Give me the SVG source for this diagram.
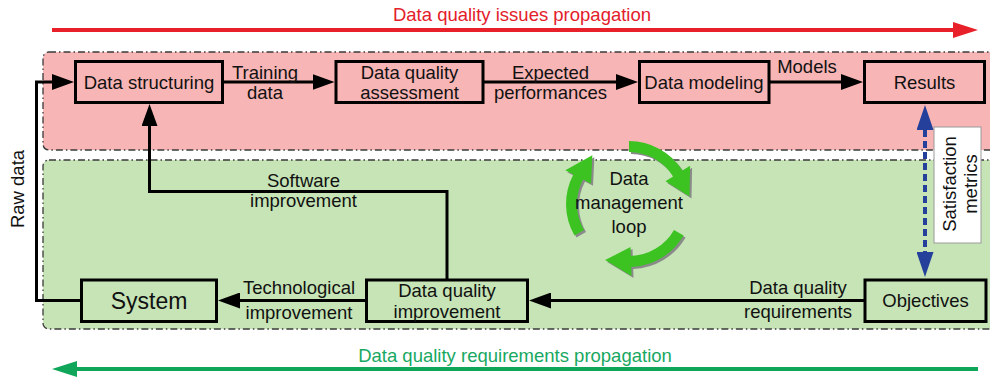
<svg xmlns="http://www.w3.org/2000/svg" xmlns:xlink="http://www.w3.org/1999/xlink" width="990" height="379" viewBox="0 0 990 379">
  <style>
    text { font-family: "Liberation Sans", Arial, sans-serif; font-size: 18.5px; fill: #111; }
    .c { text-anchor: middle; }
    .region { stroke: #3a3a3a; stroke-width: 1.3; stroke-dasharray: 7 3 1.5 3; }
    .box { fill: none; stroke: #000; stroke-width: 3; }
    .conn { fill: none; stroke: #000; stroke-width: 3; marker-end: url(#head); }
    .dash { fill: none; stroke: #24409a; stroke-width: 4; stroke-dasharray: 7 4; marker-start: url(#blueHead); marker-end: url(#blueHead); }
  </style>
  <defs>
    <marker id="head" markerUnits="userSpaceOnUse" viewBox="0 0 22 16" refX="12" refY="8" markerWidth="22" markerHeight="16" orient="auto">
      <path d="M0,0 L22,8 L0,16 Z" fill="#000"/>
    </marker>
    <marker id="blueHead" markerUnits="userSpaceOnUse" viewBox="0 0 25 17" refX="0" refY="8.5" markerWidth="25" markerHeight="17" orient="auto-start-reverse">
      <path d="M0,0 L25,8.5 L0,17 Z" fill="#24409a"/>
    </marker>
    <!-- one curved arrow of the loop, drawn around the origin -->
    <path id="loopArrow" d="M0,-63 A63,63 0 0 1 53.4,-33.4 L61.1,-38.2 L60.5,-7.4 L36.5,-22.8 L44.1,-27.6 A52,52 0 0 0 0,-52 Z"/>
  </defs>

  <!-- propagation arrows -->
  <g id="issues-propagation">
    <line x1="52" y1="30" x2="956" y2="30" stroke="#e8202a" stroke-width="4"/>
    <polygon points="953,22 978,30 953,38" fill="#e8202a"/>
    <text x="522" y="21" class="c" style="fill:#e3202a">Data quality issues propagation</text>
  </g>
  <g id="requirements-propagation">
    <line x1="75" y1="369" x2="978" y2="369" stroke="#0fa65a" stroke-width="4"/>
    <polygon points="77,361 52,369 77,377" fill="#0fa65a"/>
    <text x="515" y="362" class="c" style="fill:#17a862">Data quality requirements propagation</text>
  </g>

  <!-- background regions -->
  <rect id="analysis-region" class="region" x="43" y="52" width="960" height="98" rx="6" fill="#f8b5b5"/>
  <rect id="management-region" class="region" x="43" y="160" width="960" height="169" rx="6" fill="#c6e4b6"/>

  <!-- connectors -->
  <g id="connectors">
    <path class="conn" d="M81.5,300.5 H36.5 V82 H64"/>
    <path class="conn" d="M222.5,82 H324.5"/>
    <path class="conn" d="M483,82 H628"/>
    <path class="conn" d="M769,82 H853"/>
    <path class="conn" d="M447,280 V191.5 H149.5 V114"/>
    <path class="conn" d="M366.5,300.5 H228"/>
    <path class="conn" d="M865,300.5 H539"/>
    <path class="dash" d="M925,130 V252"/>
  </g>

  <!-- connector labels -->
  <g id="labels">
    <text transform="translate(23.5,189) rotate(-90)" class="c">Raw data</text>
    <text x="265" y="79" class="c">Training</text>
    <text x="265" y="99" class="c">data</text>
    <text x="550.5" y="78.5" class="c">Expected</text>
    <text x="550.5" y="99" class="c">performances</text>
    <text x="807" y="73" class="c">Models</text>
    <text x="303.5" y="186.5" class="c">Software</text>
    <text x="303.5" y="207" class="c">improvement</text>
    <text x="299" y="294" class="c">Technological</text>
    <text x="299" y="318.5" class="c">improvement</text>
    <text x="798" y="294" class="c">Data quality</text>
    <text x="798" y="317.5" class="c">requirements</text>
  </g>

  <!-- satisfaction metrics tag -->
  <g id="satisfaction-metrics">
    <rect x="934" y="127" width="47" height="116" fill="#fff" stroke="#9a9a9a" stroke-width="1"/>
    <text transform="translate(956,184) rotate(-90)" class="c">Satisfaction</text>
    <text transform="translate(976.5,184) rotate(-90)" class="c">metrics</text>
  </g>

  <!-- data management loop -->
  <g id="data-management-loop">
    <g transform="translate(629,204)">
      <g transform="translate(2,2)" fill="#8a8a8a">
        <use xlink:href="#loopArrow" href="#loopArrow"/>
        <use xlink:href="#loopArrow" href="#loopArrow" transform="rotate(120)"/>
        <use xlink:href="#loopArrow" href="#loopArrow" transform="rotate(240)"/>
      </g>
      <g fill="#3cc322">
        <use xlink:href="#loopArrow" href="#loopArrow"/>
        <use xlink:href="#loopArrow" href="#loopArrow" transform="rotate(120)"/>
        <use xlink:href="#loopArrow" href="#loopArrow" transform="rotate(240)"/>
      </g>
    </g>
    <text x="629" y="185" class="c">Data</text>
    <text x="629" y="209" class="c">management</text>
    <text x="629" y="232.5" class="c">loop</text>
  </g>

  <!-- nodes -->
  <g id="data-structuring">
    <rect class="box" x="75.5" y="61.5" width="147" height="41"/>
    <text x="149" y="88.5" class="c">Data structuring</text>
  </g>
  <g id="data-quality-assessment">
    <rect class="box" x="336" y="61.5" width="147" height="41"/>
    <text x="409.5" y="79" class="c">Data quality</text>
    <text x="409.5" y="99" class="c">assessment</text>
  </g>
  <g id="data-modeling">
    <rect class="box" x="639.5" y="61.5" width="129.5" height="41"/>
    <text x="704" y="88.5" class="c">Data modeling</text>
  </g>
  <g id="results">
    <rect class="box" x="864.5" y="61.5" width="120" height="41"/>
    <text x="924.5" y="88.5" class="c">Results</text>
  </g>
  <g id="system">
    <rect class="box" x="81.5" y="280" width="135" height="41.5"/>
    <text x="149" y="308.5" class="c" style="font-size:23px">System</text>
  </g>
  <g id="data-quality-improvement">
    <rect class="box" x="366.5" y="280" width="161" height="41.5"/>
    <text x="447" y="297" class="c">Data quality</text>
    <text x="447" y="318" class="c">improvement</text>
  </g>
  <g id="objectives">
    <rect class="box" x="865" y="280" width="121" height="41.5"/>
    <text x="925.5" y="307" class="c">Objectives</text>
  </g>
</svg>
